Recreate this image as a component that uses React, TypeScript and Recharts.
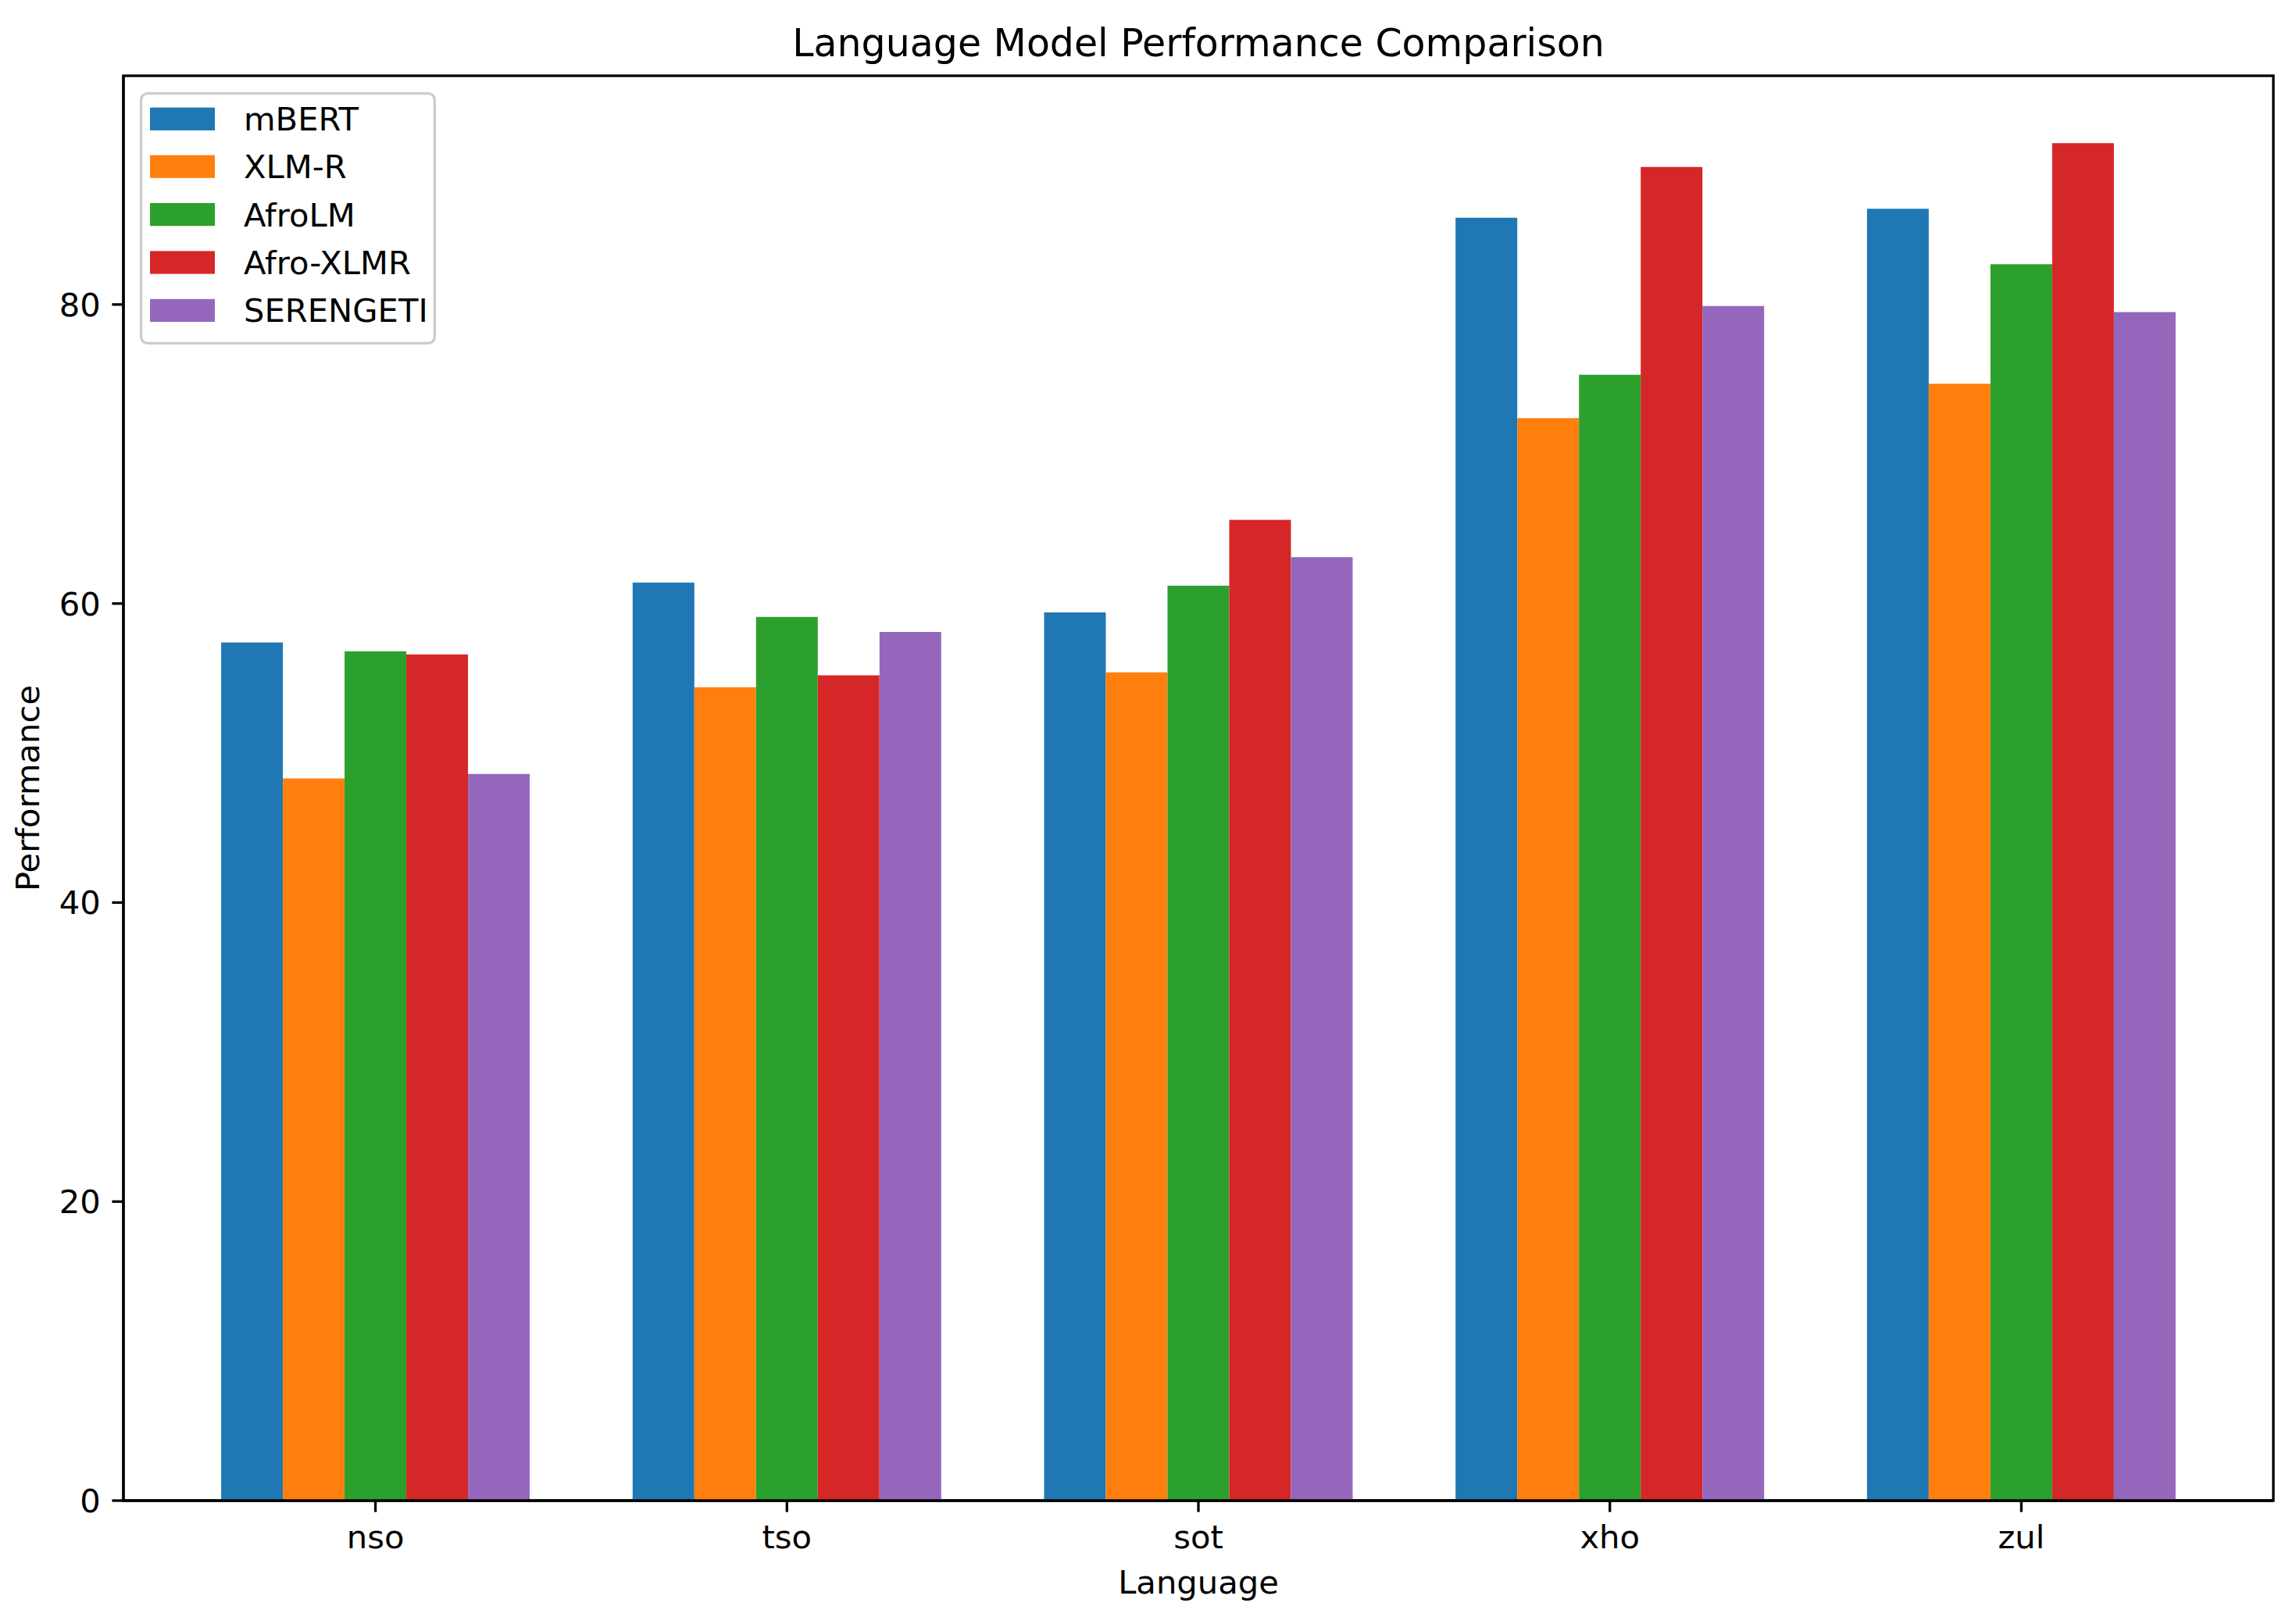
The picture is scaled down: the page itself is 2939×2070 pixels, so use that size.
import React from 'react';
import { BarChart, Bar, XAxis, YAxis, Legend, Customized } from 'recharts';

const languages = ['nso', 'tso', 'sot', 'xho', 'zul'];
const models = ['mBERT', 'XLM-R', 'AfroLM', 'Afro-XLMR', 'SERENGETI'];
const colors = ['#1f77b4', '#ff7f0e', '#2ca02c', '#d62728', '#9467bd'];

const mBERT = [57.4, 61.4, 59.4, 85.8, 86.4];
const xlmR = [48.3, 54.4, 55.4, 72.4, 74.7];
const afroLM = [56.8, 59.1, 61.2, 75.3, 82.7];
const afroXLMR = [56.6, 55.2, 65.6, 89.2, 90.8];
const serengeti = [48.6, 58.1, 63.1, 79.9, 79.5];

const yTicks = [0, 20, 40, 60, 80];
const yMax = 95.3;

const seriesValues = [mBERT, xlmR, afroLM, afroXLMR, serengeti];

const data = languages.map((lang, i) => {
  const row: Record<string, string | number> = { lang };
  models.forEach((m, j) => {
    row[m] = seriesValues[j][i];
  });
  return row;
});

const FONT = 'DejaVu Sans, sans-serif';
const FS = 41.7;
const LW = 3.3;

const W = 2939;
const H = 2070;
const M = { top: 97, right: 29, bottom: 0, left: 0 };
const X_AXIS_H = 149;
const Y_AXIS_W = 158;
const PLOT = {
  x: M.left + Y_AXIS_W,
  y: M.top,
  w: W - M.left - Y_AXIS_W - M.right,
  h: H - M.top - M.bottom - X_AXIS_H,
};

const XTick = (props: any) => {
  const { x, y, payload } = props;
  return (
    <text x={x} y={y + 31.7} textAnchor="middle" fontFamily={FONT} fontSize={FS} fill="#000">
      {payload.value}
    </text>
  );
};

const YTick = (props: any) => {
  const { x, y, payload } = props;
  return (
    <text x={x} y={y + 15} textAnchor="end" fontFamily={FONT} fontSize={FS} fill="#000">
      {payload.value}
    </text>
  );
};

const LegendBox = () => {
  const w = 379;
  const h = 323;
  const rowTops = [19.7, 80.6, 142.0, 203.4, 264.8];
  return (
    <svg width={w} height={h} style={{ display: 'block' }}>
      <rect x={1.65} y={1.65} width={w - 3.3} height={h - 3.3} rx={8} ry={8}
        fill="#fff" fillOpacity={0.8} stroke="#cccccc" strokeWidth={LW} />
      {models.map((m, i) => (
        <g key={m}>
          <rect x={13} y={rowTops[i]} width={83} height={29.2} fill={colors[i]} />
          <text x={133} y={rowTops[i] + 29.5} fontFamily={FONT} fontSize={FS} fill="#000">
            {m}
          </text>
        </g>
      ))}
    </svg>
  );
};

const cx = PLOT.x + PLOT.w / 2;
const cy = PLOT.y + PLOT.h / 2;

const Overlay = () => (
  <g>
    <rect x={PLOT.x} y={PLOT.y} width={PLOT.w} height={PLOT.h}
      fill="none" stroke="#000" strokeWidth={LW} />
    <text x={cx} y={72} textAnchor="middle" fontFamily={FONT} fontSize={49} fill="#000">
      Language Model Performance Comparison
    </text>
    <text x={cx} y={2040} textAnchor="middle" fontFamily={FONT} fontSize={FS} fill="#000">
      Language
    </text>
    <text x={50} y={cy} textAnchor="middle" fontFamily={FONT} fontSize={FS} fill="#000"
      transform={`rotate(-90 50 ${cy})`}>
      Performance
    </text>
  </g>
);

export default function App() {
  return (
    <div style={{ position: 'absolute', left: 0, top: 0, width: W, height: H, background: '#fff' }}>
      <BarChart
        width={W}
        height={H}
        data={data}
        margin={M}
        barCategoryGap="12.5%"
        barGap={0}
      >
        <XAxis
          dataKey="lang"
          height={X_AXIS_H}
          padding={{ left: 59.25, right: 59.25 }}
          interval={0}
          axisLine={{ stroke: '#000', strokeWidth: LW }}
          tickLine={{ stroke: '#000', strokeWidth: LW }}
          tickSize={14.6}
          tickMargin={14.6}
          tick={XTick}
        />
        <YAxis
          type="number"
          domain={[0, yMax]}
          ticks={yTicks}
          width={Y_AXIS_W}
          allowDataOverflow
          axisLine={{ stroke: '#000', strokeWidth: LW }}
          tickLine={{ stroke: '#000', strokeWidth: LW }}
          tickSize={14.6}
          tickMargin={14.6}
          tick={YTick}
        />
        {models.map((m, i) => (
          <Bar key={m} dataKey={m} fill={colors[i]} isAnimationActive={false} />
        ))}
        <Legend
          layout="vertical"
          align="center"
          verticalAlign="middle"
          wrapperStyle={{ position: 'absolute', left: 179, top: 118, width: 379, height: 323 }}
          content={() => <LegendBox />}
        />
        <Customized component={Overlay} />
      </BarChart>
    </div>
  );
}
